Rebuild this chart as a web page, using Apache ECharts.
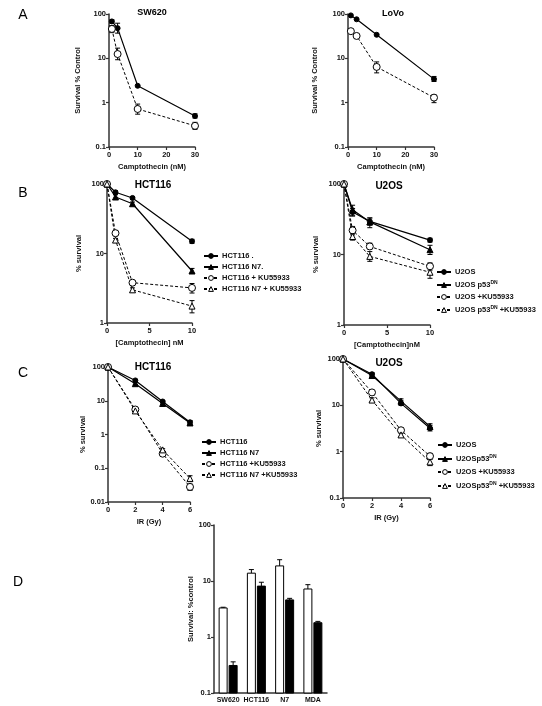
<!DOCTYPE html>
<html><head><meta charset="utf-8">
<script src="https://cdn.jsdelivr.net/npm/echarts@6/dist/echarts.min.js"></script>
<style>html,body{margin:0;padding:0;background:#fff}#c{width:542px;height:706px}</style>
</head><body><div id="c"></div>
<script>
// ---------- Panel A: Camptothecin (nM) ----------
const A_dose = [1, 3, 10, 30];
const SW620_ctrl = [68, 48, 2.4, 0.5];
const SW620_ctrl_err = [[62, 74], [37, 62], null, [0.45, 0.56]];
const SW620_ku = [46, 12.5, 0.72, 0.3];
const SW620_ku_err = [[38, 55], [9.3, 17], [0.55, 0.93], [0.25, 0.36]];
const LoVo_ctrl = [93, 76, 34, 3.4];
const LoVo_ctrl_err = [null, null, null, [3.0, 3.9]];
const LoVo_ku = [41, 32, 6.4, 1.3];
const LoVo_ku_err = [null, null, [4.7, 8.3], [1.0, 1.5]];

// ---------- Panel B: [Camptothecin] nM ----------
const B_dose = [0, 1, 3, 10];
const B_HCT = [100, 76, 63, 15];
const B_HCT_err = [null, [72, 80], [60, 66], [14, 16]];
const B_N7 = [100, 65, 52, 5.6];
const B_N7_err = [null, [60, 70], [49, 55], [5.2, 6.1]];
const B_HCT_KU = [100, 19.6, 3.8, 3.2];
const B_HCT_KU_err = [null, [18, 21], [3.5, 4.1], [2.7, 3.7]];
const B_N7_KU = [100, 15.6, 3.0, 1.75];
const B_N7_KU_err = [null, [14.5, 16.5], [2.8, 3.2], [1.4, 2.1]];
const B_U2OS = [100, 40, 29.5, 16];
const B_U2OS_err = [null, [36, 45], [26, 33], [15, 17]];
const B_DN = [100, 43, 29, 11.7];
const B_DN_err = [null, [35, 50], [24, 33], [10, 13.5]];
const B_U2OS_KU = [100, 22, 13, 6.8];
const B_U2OS_KU_err = [null, [19, 25], [12, 14.5], [6, 7.6]];
const B_DN_KU = [100, 18, 9.4, 5.6];
const B_DN_KU_err = [null, [16, 20], [8, 11], [4.6, 6.5]];

// ---------- Panel C: IR (Gy) ----------
const C_dose = [0, 2, 4, 6];
const C_HCT = [100, 40, 9.5, 2.3];
const C_HCT_err = [null, [37, 43], [8.8, 10.2], [2.0, 2.6]];
const C_N7 = [100, 32, 8.3, 2.2];
const C_N7_err = [null, [30, 34], [7.8, 8.8], [1.9, 2.5]];
const C_HCT_KU = [100, 5.5, 0.27, 0.028];
const C_HCT_KU_err = [null, [5.2, 5.8], [0.25, 0.29], [0.022, 0.034]];
const C_N7_KU = [100, 5.0, 0.35, 0.05];
const C_N7_KU_err = [null, [4.7, 5.3], [0.32, 0.38], [0.04, 0.06]];
const C_U2OS = [100, 47, 11, 3.2];
const C_U2OS_err = [null, [43, 51], [10, 12.5], [2.8, 3.7]];
const C_DN = [100, 44, 12.3, 3.5];
const C_DN_err = [null, [41, 48], [11, 13.8], [3.1, 4]];
const C_U2OS_KU = [100, 19, 2.9, 0.8];
const C_U2OS_KU_err = [null, [17, 21], [2.6, 3.3], [0.7, 0.92]];
const C_DN_KU = [100, 13, 2.3, 0.6];
const C_DN_KU_err = [null, [12, 14.5], [2.1, 2.5], [0.5, 0.68]];

// ---------- Panel D ----------
const D_cats = ['SW620', 'HCT116', 'N7', 'MDA'];
const D_ctrl = [3.3, 13.8, 18.6, 7.2];
const D_ctrl_hi = [3.4, 16, 24, 8.6];
const D_ku = [0.31, 8.1, 4.6, 1.8];
const D_ku_hi = [0.36, 9.5, 4.9, 1.9];

const FF = '"Liberation Sans", Arial, sans-serif';
const AX = '#333';

const grids = [
  {left: 109, top: 14, width: 86, height: 133},   // A SW620
  {left: 348, top: 14, width: 86, height: 133},   // A LoVo
  {left: 107, top: 184, width: 85, height: 139},  // B HCT116
  {left: 344, top: 184, width: 86, height: 141},  // B U2OS
  {left: 108, top: 367, width: 82, height: 135},  // C HCT116
  {left: 343, top: 359, width: 87, height: 139},  // C U2OS
  {left: 214, top: 525, width: 113, height: 168}  // D
];

const lblStyle = {fontSize: 7.5, fontWeight: 'bold', fontFamily: FF, color: '#111', margin: 4};
const nameStyle = {fontSize: 7.5, fontWeight: 'bold', fontFamily: FF, color: '#111'};

function xVal(gi, max, interval, name) {
  return {type: 'value', gridIndex: gi, min: 0, max: max, interval: interval,
    name: name, nameLocation: 'middle', nameGap: 16, nameTextStyle: nameStyle,
    axisLine: {show: true, onZero: false, lineStyle: {color: AX, width: 1.5}},
    axisTick: {show: true, length: 3, lineStyle: {color: AX, width: 1.2}},
    axisLabel: lblStyle, splitLine: {show: false}};
}
function yLog(gi, min, max, name, gap) {
  return {type: 'log', logBase: 10, gridIndex: gi, min: min, max: max,
    name: name, nameLocation: 'middle', nameGap: gap, nameTextStyle: nameStyle,
    axisLine: {show: true, onZero: false, lineStyle: {color: AX, width: 1.5}},
    axisTick: {show: true, length: 3, lineStyle: {color: AX, width: 1.2}},
    axisLabel: Object.assign({}, lblStyle, {margin: 3}), splitLine: {show: false}, minorTick: {show: false}};
}

const xAxes = [
  xVal(0, 30, 10, 'Camptothecin (nM)'),
  xVal(1, 30, 10, 'Camptothecin (nM)'),
  xVal(2, 10, 5, '[Camptothecin] nM'),
  xVal(3, 10, 5, '[Camptothecin]nM'),
  xVal(4, 6, 2, 'IR (Gy)'),
  xVal(5, 6, 2, 'IR (Gy)'),
  {type: 'category', gridIndex: 6, data: D_cats, boundaryGap: true,
    axisLine: {show: true, onZero: false, lineStyle: {color: AX, width: 1.5}},
    axisTick: {show: false}, axisLabel: Object.assign({}, lblStyle, {margin: 4, interval: 0, fontSize: 7})}
];
const yAxes = [
  yLog(0, 0.1, 100, 'Survival % Control', 27),
  yLog(1, 0.1, 100, 'Survival % Control', 29),
  yLog(2, 1, 100, '% survival', 24),
  yLog(3, 1, 100, '% survival', 24),
  yLog(4, 0.01, 100, '% survival', 21),
  yLog(5, 0.1, 100, '% survival', 20),
  yLog(6, 0.1, 100, 'Survival: %control', 16)
];

const series = [];
const openNames = {};
function addLine(gi, name, xs, ys, errs, kind) {
  const open = kind === 'oc' || kind === 'ot';
  if (open) openNames[name] = true;
  const sym = (kind === 'fc' || kind === 'oc') ? 'circle' : 'triangle';
  const isc = open ? {color: '#fff', borderColor: '#000', borderWidth: 1} : {color: '#000', borderColor: '#000', borderWidth: 1};
  series.push({
    type: 'line', name: name, xAxisIndex: gi, yAxisIndex: gi, z: 3,
    data: xs.map((x, i) => [x, ys[i]]),
    symbol: sym, symbolSize: kind === 'fc' ? 5 : (kind === 'oc' ? 7 : 6),
    itemStyle: isc,
    lineStyle: {color: '#000', width: open ? 1 : 1.2, type: open ? [3, 2] : 'solid'},
    emphasis: {disabled: true}, animation: false
  });
  series.push({
    type: 'custom', xAxisIndex: gi, yAxisIndex: gi, z: 2, silent: true, animation: false,
    data: xs.map((x, i) => errs[i] ? [x, errs[i][0], errs[i][1]] : null).filter(Boolean),
    encode: {x: 0, y: [1, 2]},
    renderItem: function (p, api) {
      const x = api.value(0);
      const lo = api.coord([x, api.value(1)]);
      const hi = api.coord([x, api.value(2)]);
      const w = 2.5, st = {stroke: '#000', lineWidth: 1};
      return {type: 'group', children: [
        {type: 'line', shape: {x1: lo[0], y1: lo[1], x2: hi[0], y2: hi[1]}, style: st},
        {type: 'line', shape: {x1: lo[0] - w, y1: lo[1], x2: lo[0] + w, y2: lo[1]}, style: st},
        {type: 'line', shape: {x1: hi[0] - w, y1: hi[1], x2: hi[0] + w, y2: hi[1]}, style: st}
      ]};
    }
  });
}

addLine(0, 'A1:SW620', A_dose, SW620_ctrl, SW620_ctrl_err, 'fc');
addLine(0, 'A1:SW620 +KU55933', A_dose, SW620_ku, SW620_ku_err, 'oc');
addLine(1, 'A2:LoVo', A_dose, LoVo_ctrl, LoVo_ctrl_err, 'fc');
addLine(1, 'A2:LoVo +KU55933', A_dose, LoVo_ku, LoVo_ku_err, 'oc');

addLine(2, 'B1:HCT116 .', B_dose, B_HCT, B_HCT_err, 'fc');
addLine(2, 'B1:HCT116 N7.', B_dose, B_N7, B_N7_err, 'ft');
addLine(2, 'B1:HCT116 + KU55933', B_dose, B_HCT_KU, B_HCT_KU_err, 'oc');
addLine(2, 'B1:HCT116 N7 + KU55933', B_dose, B_N7_KU, B_N7_KU_err, 'ot');

addLine(3, 'B2:U2OS', B_dose, B_U2OS, B_U2OS_err, 'fc');
addLine(3, 'B2:U2OS p53DN', B_dose, B_DN, B_DN_err, 'ft');
addLine(3, 'B2:U2OS +KU55933', B_dose, B_U2OS_KU, B_U2OS_KU_err, 'oc');
addLine(3, 'B2:U2OS p53DN +KU55933', B_dose, B_DN_KU, B_DN_KU_err, 'ot');

addLine(4, 'C1:HCT116', C_dose, C_HCT, C_HCT_err, 'fc');
addLine(4, 'C1:HCT116 N7', C_dose, C_N7, C_N7_err, 'ft');
addLine(4, 'C1:HCT116 +KU55933', C_dose, C_HCT_KU, C_HCT_KU_err, 'oc');
addLine(4, 'C1:HCT116 N7 +KU55933', C_dose, C_N7_KU, C_N7_KU_err, 'ot');

addLine(5, 'C2:U2OS', C_dose, C_U2OS, C_U2OS_err, 'fc');
addLine(5, 'C2:U2OSp53DN', C_dose, C_DN, C_DN_err, 'ft');
addLine(5, 'C2:U2OS +KU55933', C_dose, C_U2OS_KU, C_U2OS_KU_err, 'oc');
addLine(5, 'C2:U2OSp53DN +KU55933', C_dose, C_DN_KU, C_DN_KU_err, 'ot');

function addBars(values, hi, offset, fill) {
  series.push({
    type: 'custom', xAxisIndex: 6, yAxisIndex: 6, silent: true, animation: false,
    data: values.map((v, i) => [i, v, hi[i]]),
    encode: {x: 0, y: [1, 2]},
    renderItem: function (p, api) {
      const i = api.value(0);
      const top = api.coord([i, api.value(1)]);
      const base = api.coord([i, 0.1]);
      const eh = api.coord([i, api.value(2)]);
      const cx = top[0] + offset, bw = 8, st = {stroke: '#000', lineWidth: 1};
      return {type: 'group', children: [
        {type: 'line', shape: {x1: cx, y1: top[1], x2: cx, y2: eh[1]}, style: st},
        {type: 'line', shape: {x1: cx - 2.5, y1: eh[1], x2: cx + 2.5, y2: eh[1]}, style: st},
        {type: 'rect', shape: {x: cx - bw / 2, y: top[1], width: bw, height: base[1] - top[1]},
          style: {fill: fill, stroke: '#000', lineWidth: 1}}
      ]};
    }
  });
}
addBars(D_ctrl, D_ctrl_hi, -5, '#fff');
addBars(D_ku, D_ku_hi, 5, '#000');

function fmt(name) {
  const t = name.replace(/^\w+:/, '');
  const parts = t.split('DN');
  if (parts.length === 2) return parts[0] + '{s|DN}' + parts[1];
  return t;
}
function legend(names, left, top, gap) {
  return {data: names.map(n => openNames[n]
      ? {name: n, itemStyle: {color: '#fff', borderColor: '#000', borderWidth: 1}}
      : {name: n, itemStyle: {color: '#000', borderColor: '#000', borderWidth: 1}}),
    left: left, top: top, orient: 'vertical', itemWidth: 14, itemHeight: 6,
    itemGap: gap, selectedMode: false, formatter: fmt, padding: 0,
    textStyle: {fontSize: 7.5, fontWeight: 'bold', fontFamily: FF, color: '#111', padding: [0, 0, 0, -1],
      rich: {s: {fontSize: 5, fontWeight: 'bold', fontFamily: FF, color: '#111', padding: [0, 0, 5, 0]}}}};
}

const T = (txt, x, y, size, weight) => ({type: 'text', x: x, y: y, silent: true,
  style: {text: txt, font: (weight || 'bold') + ' ' + size + 'px ' + FF, fill: '#000', textAlign: 'center', textVerticalAlign: 'middle'}});

const chart = echarts.init(document.getElementById('c'), null, {renderer: 'canvas'});
chart.setOption({
  backgroundColor: '#fff',
  animation: false,
  grid: grids,
  xAxis: xAxes,
  yAxis: yAxes,
  legend: [
    legend(['B1:HCT116 .', 'B1:HCT116 N7.', 'B1:HCT116 + KU55933', 'B1:HCT116 N7 + KU55933'], 203, 252, 3),
    legend(['B2:U2OS', 'B2:U2OS p53DN', 'B2:U2OS +KU55933', 'B2:U2OS p53DN +KU55933'], 436, 268, 4),
    legend(['C1:HCT116', 'C1:HCT116 N7', 'C1:HCT116 +KU55933', 'C1:HCT116 N7 +KU55933'], 201, 438, 3),
    legend(['C2:U2OS', 'C2:U2OSp53DN', 'C2:U2OS +KU55933', 'C2:U2OSp53DN +KU55933'], 437, 441, 5)
  ],
  graphic: [
    T('A', 23, 15, 14, 'normal'),
    T('B', 23, 193, 14, 'normal'),
    T('C', 23, 373, 14, 'normal'),
    T('D', 18, 582, 14, 'normal'),
    T('SW620', 152, 13, 9),
    T('LoVo', 393, 14, 9),
    T('HCT116', 153, 185, 10),
    T('U2OS', 389, 186, 10),
    T('HCT116', 153, 367, 10),
    T('U2OS', 389, 363, 10)
  ],
  series: series
});
</script></body></html>
